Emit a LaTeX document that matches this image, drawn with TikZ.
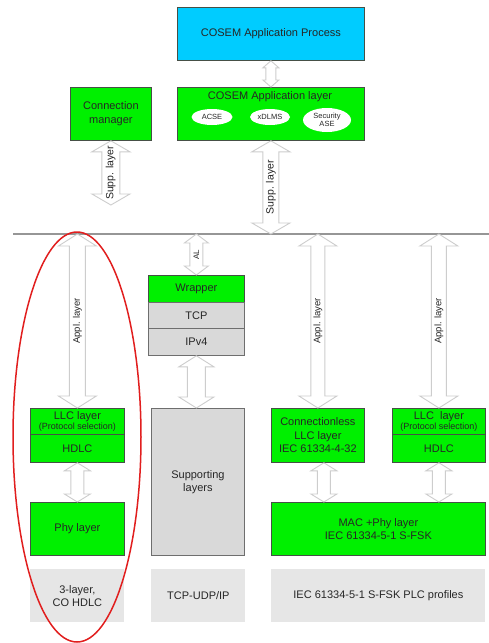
\documentclass[tikz,border=0pt]{standalone}
\usepackage{fontspec}
\setmainfont{Liberation Sans}
\usetikzlibrary{calc,shapes.geometric}

\definecolor{procblue}{RGB}{0,204,255}
\definecolor{layergreen}{RGB}{0,240,0}
\definecolor{boxline}{RGB}{70,80,70}
\definecolor{stackgray}{RGB}{217,217,217}
\definecolor{stackline}{RGB}{110,110,110}
\definecolor{profgray}{RGB}{230,230,230}
\definecolor{arrowgray}{RGB}{205,205,205}
\definecolor{busgray}{RGB}{150,150,150}
\definecolor{ringred}{RGB}{225,30,30}
\definecolor{txt}{RGB}{38,38,38}

% hollow vertical double arrow: #1 top point, #2 bottom point,
% #3 half head width, #4 half shaft width, #5 head length (pt)
\newcommand\hollowarrow[5]{%
  \draw[harrow] let \p1=(#1), \p2=(#2) in
    (\x1,\y1) -- (\x1+#3pt,\y1-#5pt) -- (\x1+#4pt,\y1-#5pt)
    -- (\x1+#4pt,\y2+#5pt) -- (\x1+#3pt,\y2+#5pt) -- (\x1,\y2)
    -- (\x1-#3pt,\y2+#5pt) -- (\x1-#4pt,\y2+#5pt)
    -- (\x1-#4pt,\y1-#5pt) -- (\x1-#3pt,\y1-#5pt) -- cycle;}

\tikzset{
  box/.style={draw=boxline, line width=0.8pt, inner sep=0pt, anchor=north west,
    align=center, text=txt, font=\fontsize{11}{13.5}\selectfont},
  greenbox/.style={box, fill=layergreen},
  bluebox/.style={box, fill=procblue},
  graybox/.style={box, fill=stackgray, draw=stackline},
  profile/.style={box, fill=profgray, draw=none},
  ase/.style={ellipse, fill=white, inner sep=0pt, align=center, text=txt,
    font=\fontsize{7.5}{8.5}\selectfont},
  harrow/.style={draw=arrowgray, fill=white, line width=0.9pt, line join=miter},
  alabel/.style={rotate=90, inner sep=0pt, text=txt, font=\fontsize{9.5}{11}\selectfont},
  busline/.style={draw=busgray, line width=2pt},
  ring/.style={draw=ringred, line width=1.5pt}
}

\begin{document}
\begin{tikzpicture}[x=1pt,y=-1pt]
\useasboundingbox (0,0) rectangle (489,643);

% application side
\node[bluebox, minimum width=187, minimum height=53] (proc) at (177,7) {COSEM Application Process};
\node[greenbox, minimum width=187, minimum height=53] (al) at (177,87) {};
\node[text=txt, font=\fontsize{11}{13}\selectfont, inner sep=0pt] (altitle) at (270,97) {COSEM Application layer};
\node[ase, minimum width=41, minimum height=16] (acse) at (212,117) {ACSE};
\node[ase, minimum width=40, minimum height=16] (xdlms) at (270,117) {xDLMS};
\node[ase, minimum width=48, minimum height=24] (sase) at (327,120) {Security\\ASE};
\node[greenbox, minimum width=81, minimum height=53] (cm) at (70,87) {Connection\\manager};

% boundary between application and supporting layers
\coordinate (busL) at (13,234);
\coordinate (busR) at (489,234);
\draw[busline] (busL) -- (busR);
\coordinate (cmend) at (110.5,205);

% TCP-UDP/IP stack
\node[greenbox, minimum width=96, minimum height=27] (wrap) at (148,275) {Wrapper};
\node[graybox, minimum width=96, minimum height=26] (tcp) at (148,302) {TCP};
\node[graybox, minimum width=96, minimum height=27] (ip) at (148,328) {IPv4};
\node[graybox, minimum width=93, minimum height=147] (supp) at (151,408) {Supporting\\layers};

% 3-layer CO HDLC stack
\node[greenbox, minimum width=94, minimum height=26] (llcl) at (30,408)
  {LLC layer\\[-3pt]{\fontsize{9}{10}\selectfont(Protocol selection)}};
\node[greenbox, minimum width=94, minimum height=28] (hdlcl) at (30,434) {HDLC};
\node[greenbox, minimum width=94, minimum height=53] (phy) at (30,502) {Phy layer};

% S-FSK PLC stack
\node[greenbox, minimum width=93, minimum height=54] (cl) at (271,408)
  {Connectionless\\LLC layer\\IEC 61334-4-32};
\node[greenbox, minimum width=93, minimum height=26] (llcr) at (392,408)
  {LLC\ \ layer\\[-3pt]{\fontsize{9}{10}\selectfont(Protocol selection)}};
\node[greenbox, minimum width=93, minimum height=28] (hdlcr) at (392,434) {HDLC};
\node[greenbox, minimum width=214, minimum height=53] (mac) at (271,502)
  {MAC +Phy layer\\IEC 61334-5-1 S-FSK};

% profile names
\node[profile, minimum width=94, minimum height=53] (p1) at (30,569) {3-layer,\\CO HDLC};
\node[profile, minimum width=94, minimum height=53] (p2) at (151,569) {TCP-UDP/IP};
\node[profile, minimum width=214, minimum height=53] (p3) at (271,569) {IEC 61334-5-1 S-FSK PLC profiles};

% layer-to-layer arrows
\hollowarrow{proc.south}{al.north}{8}{5}{7}
\hollowarrow{cm.south}{cmend}{19}{9}{11}
\hollowarrow{al.south}{al.south |- busL}{19}{8}{11}
\hollowarrow{wrap.north |- busL}{wrap.north}{12}{6.5}{9}
\hollowarrow{ip.south}{ip.south |- supp.north}{17.5}{9}{11}
\hollowarrow{llcl.north |- busL}{llcl.north}{19}{8}{12}
\hollowarrow{cl.north |- busL}{cl.north}{19}{7}{12}
\hollowarrow{llcr.north |- busL}{llcr.north}{19}{7.5}{12}
\hollowarrow{hdlcl.south}{phy.north}{13}{6.5}{8}
\hollowarrow{[xshift=6pt]cl.south}{[xshift=6pt]cl.south |- mac.north}{13}{6.5}{8}
\hollowarrow{hdlcr.south}{hdlcr.south |- mac.north}{13}{6.5}{8}

% arrow labels
\node[alabel, font=\fontsize{10.5}{12}\selectfont] (l1) at ($(cm.south)!0.5!(cmend)$) {Supp. layer};
\node[alabel, font=\fontsize{10.5}{12}\selectfont] (l2) at ($(al.south)!0.5!(al.south |- busL)$) {Supp. layer};
\node[alabel, font=\fontsize{8}{9}\selectfont] (l3) at ($(wrap.north |- busL)!0.5!(wrap.north)$) {AL};
\node[alabel] (l4) at ($(llcl.north |- busL)!0.5!(llcl.north)$) {Appl. layer};
\node[alabel] (l5) at ($(cl.north |- busL)!0.5!(cl.north)$) {Appl. layer};
\node[alabel] (l6) at ($(llcr.north |- busL)!0.5!(llcr.north)$) {Appl. layer};

% highlighted profile
\draw[ring] (77,437) ellipse [x radius=64pt, y radius=205pt];
\end{tikzpicture}
\end{document}
